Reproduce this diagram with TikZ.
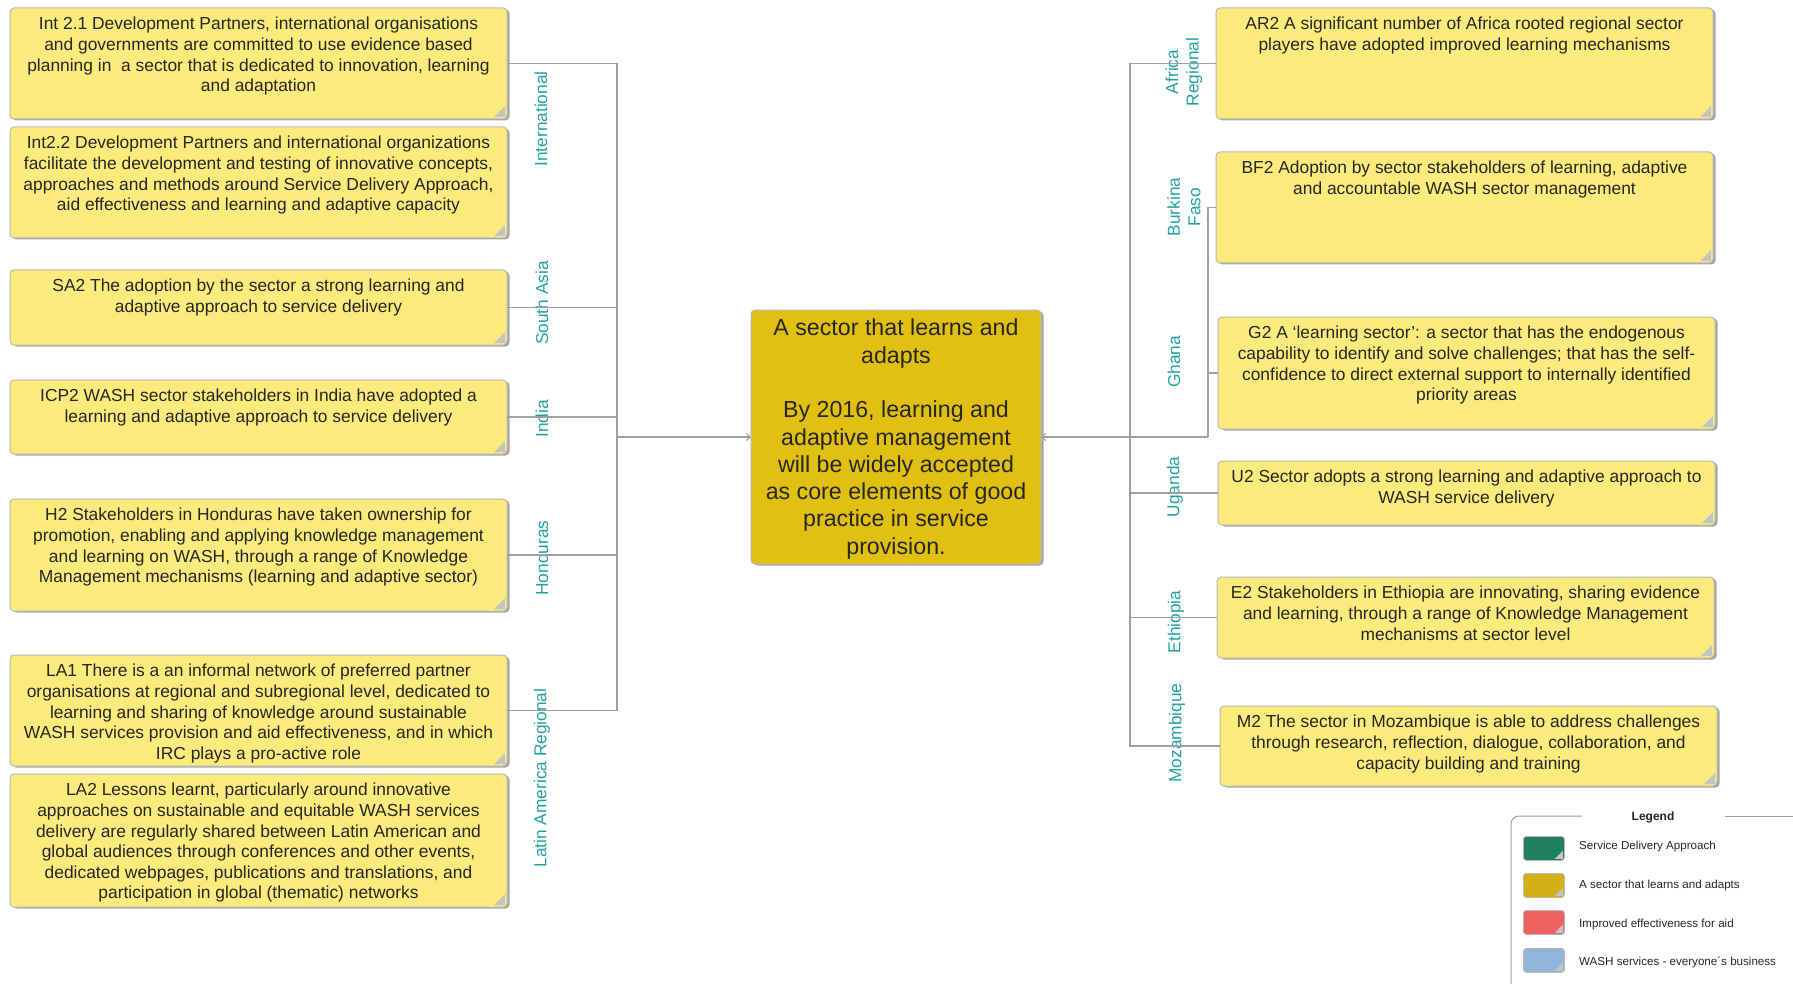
\documentclass[tikz,border=0pt]{standalone}
\usepackage{fontspec}
\setmainfont{Liberation Sans}
\usetikzlibrary{arrows.meta}
\definecolor{noteyel}{HTML}{FBEB7C}
\definecolor{coregold}{HTML}{E2C012}
\definecolor{boxline}{HTML}{B8B8B8}
\definecolor{shadowc}{HTML}{A6A6A6}
\definecolor{foldc}{HTML}{C4C4C4}
\definecolor{connc}{HTML}{A0A0A0}
\definecolor{tealc}{HTML}{22A2A2}
\definecolor{txtc}{HTML}{262626}
\definecolor{lgreen}{HTML}{1E8060}
\definecolor{lgold}{HTML}{D4B016}
\definecolor{lred}{HTML}{F06262}
\definecolor{lblue}{HTML}{92B5DC}
\tikzset{
  notebox/.style={draw=boxline, line width=1pt, fill=noteyel, rounded corners=4pt, inner sep=0pt, outer sep=0pt},
  boxtext/.style={text=txtc, align=center, inner sep=0pt, font=\fontsize{17.4}{20.6}\selectfont},
  lbl/.style={text=tealc, align=center, inner sep=0pt, rotate=90, font=\fontsize{17.3}{20.5}\selectfont},
  conn/.style={draw=connc, line width=1.2pt},
  arrconn/.style={conn, -{Straight Barb[length=4pt,width=7pt,line width=1pt]}},
  swatch/.style={draw=boxline, line width=0.8pt, rounded corners=3pt, inner sep=0pt, minimum width=41pt, minimum height=24pt, anchor=north west},
  legtext/.style={text=txtc, anchor=west, inner sep=0pt, font=\fontsize{11.6}{14}\selectfont}
}
% name, x, y, w, h, text
\newcommand{\nbox}[6]{%
  \fill[shadowc, rounded corners=4pt] (#2+2.5,-#3-1.5) rectangle ++(#4,-#5);
  \node[notebox, minimum width=#4pt, minimum height=#5pt, anchor=north west] (#1) at (#2,-#3) {};
  \fill[foldc] ([shift={(-13pt,2pt)}]#1.south east) -- ([shift={(-2pt,2pt)}]#1.south east) -- ([shift={(-2pt,13pt)}]#1.south east) -- cycle;
  \node[boxtext, anchor=north] (#1t) at ([yshift=-9pt]#1.north) {#6};
}
\newcommand{\lswatch}[4]{%
  \node[swatch, fill=#4] (#1) at (#2,-#3) {};
  \fill[foldc] ([shift={(-10pt,2pt)}]#1.south east) -- ([shift={(-2pt,2pt)}]#1.south east) -- ([shift={(-2pt,10pt)}]#1.south east) -- cycle;
}
\begin{document}
\begin{tikzpicture}[x=1pt,y=1pt]
\useasboundingbox[fill=white] (0,0) rectangle (1793,-984);

% ---------- left boxes ----------
\nbox{int1}{10}{8}{497}{111}{Int 2.1 Development Partners, international organisations\\and governments are committed to use evidence based\\planning in\ \ a sector that is dedicated to innovation, learning\\and adaptation}
\nbox{int2}{10}{127}{497}{111}{Int2.2 Development Partners and international organizations\\facilitate the development and testing of innovative concepts,\\approaches and methods around Service Delivery Approach,\\aid effectiveness and learning and adaptive capacity}
\nbox{sa2}{10}{270}{497}{75}{SA2 The adoption by the sector a strong learning and\\adaptive approach to service delivery}
\nbox{icp2}{10}{380}{497}{74}{ICP2 WASH sector stakeholders in India have adopted a\\learning and adaptive approach to service delivery}
\nbox{h2}{10}{499}{497}{112}{H2 Stakeholders in Honduras have taken ownership for\\promotion, enabling and applying knowledge management\\and learning on WASH, through a range of Knowledge\\Management mechanisms (learning and adaptive sector)}
\nbox{la1}{10}{655}{497}{111}{LA1 There is a an informal network of preferred partner\\organisations at regional and subregional level, dedicated to\\learning and sharing of knowledge around sustainable\\WASH services provision and aid effectiveness, and in which\\IRC plays a pro-active role}
\nbox{la2}{10}{774}{497}{133}{LA2 Lessons learnt, particularly around innovative\\approaches on sustainable and equitable WASH services\\delivery are regularly shared between Latin American and\\global audiences through conferences and other events,\\dedicated webpages, publications and translations, and\\participation in global (thematic) networks}

% ---------- right boxes ----------
\nbox{ar2}{1216}{8}{497}{111}{AR2 A significant number of Africa rooted regional sector\\players have adopted improved learning mechanisms}
\nbox{bf2}{1216}{152}{497}{111}{BF2 Adoption by sector stakeholders of learning, adaptive\\and accountable WASH sector management}
\nbox{g2}{1218}{317}{497}{112}{G2 A ‘learning sector’: a sector that has the endogenous\\capability to identify and solve challenges; that has the self-\\confidence to direct external support to internally identified\\priority areas}
\nbox{u2}{1218}{461}{497}{64}{U2 Sector adopts a strong learning and adaptive approach to\\WASH service delivery}
\nbox{e2}{1217}{577}{497}{81}{E2 Stakeholders in Ethiopia are innovating, sharing evidence\\and learning, through a range of Knowledge Management\\mechanisms at sector level}
\nbox{m2}{1220}{706}{497}{80}{M2 The sector in Mozambique is able to address challenges\\through research, reflection, dialogue, collaboration, and\\capacity building and training}

% ---------- central box ----------
\fill[shadowc, rounded corners=4pt] (753.5,-311.5) rectangle ++(290,-254);
\node[notebox, fill=coregold, minimum width=290pt, minimum height=254pt, anchor=north west] (core) at (751,-310) {};
\node[text=txtc, align=center, inner sep=0pt, font=\fontsize{23.2}{27.3}\selectfont] (coret) at ([yshift=-2pt]core.center) {A sector that learns and\\adapts\\[27.3pt]By 2016, learning and\\adaptive management\\will be widely accepted\\as core elements of good\\practice in service\\provision.};

% ---------- labels ----------
\node[lbl] (lint) at (541,-119) {International};
\node[lbl] (lsa) at (542,-303) {South Asia};
\node[lbl] (lind) at (542,-419) {India};
\node[lbl] (lhon) at (542,-558) {Honduras};
\node[lbl] (llat) at (542,-778) {Latin America Regional};
\node[lbl] (lafr) at (1184,-72) {Africa\\Regional};
\node[lbl] (lbur) at (1184,-207) {Burkina\\Faso};
\node[lbl] (lgha) at (1174,-362) {Ghana};
\node[lbl] (luga) at (1175,-487) {Uganda};
\node[lbl] (leth) at (1176,-622) {Ethiopia};
\node[lbl] (lmoz) at (1177,-733) {Mozambique};

% ---------- connectors ----------
\coordinate (lbx) at (617,0);
\coordinate (rbx) at (1130,0);
\coordinate (sbx) at (1208,0);
\draw[conn] (int1.east) -- (int1.east -| lbx) -- (la1.east -| lbx) -- (la1.east);
\draw[conn] (sa2.east) -- (sa2.east -| lbx);
\draw[conn] (icp2.east) -- (icp2.east -| lbx);
\draw[conn] (h2.east) -- (h2.east -| lbx);
\draw[arrconn] (core.west -| lbx) -- (core.west);

\draw[conn] (ar2.west) -- (ar2.west -| rbx) -- (m2.west -| rbx) -- (m2.west);
\draw[conn] (u2.west) -- (u2.west -| rbx);
\draw[conn] (e2.west) -- (e2.west -| rbx);
\draw[conn] (bf2.west) -- (bf2.west -| sbx) -- (core.east -| sbx);
\draw[conn] (g2.west) -- (g2.west -| sbx);
\draw[arrconn] (core.east -| sbx) -- (core.east);

% ---------- legend ----------
\draw[draw=connc, line width=1pt, rounded corners=8pt] (1582,-816) -- (1511,-816) -- (1511,-990);
\draw[draw=connc, line width=1pt] (1725,-816) -- (1800,-816);
\node[text=txtc, inner sep=0pt, font=\bfseries\fontsize{12}{14}\selectfont] (legt) at (1653,-817) {Legend};
\lswatch{sw1}{1523}{836}{lgreen}
\lswatch{sw2}{1523}{873}{lgold}
\lswatch{sw3}{1523}{910}{lred}
\lswatch{sw4}{1523}{948}{lblue}
\node[legtext] (lt1) at (1579,-846) {Service Delivery Approach};
\node[legtext] (lt2) at (1579,-885) {A sector that learns and adapts};
\node[legtext] (lt3) at (1579,-924) {Improved effectiveness for aid};
\node[legtext] (lt4) at (1579,-962) {WASH services - everyone´s business};
\end{tikzpicture}
\end{document}
